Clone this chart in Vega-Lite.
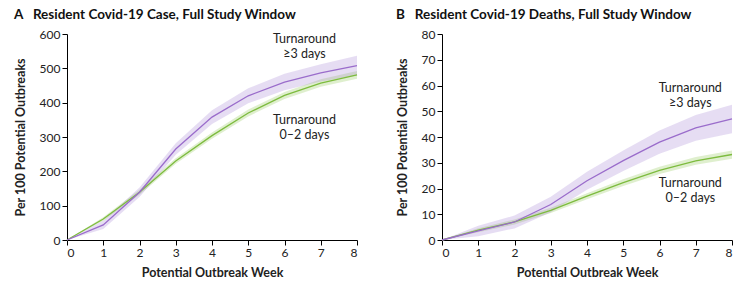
{
  "$schema": "https://vega.github.io/schema/vega-lite/v6.json",
  "background": "white",
  "padding": {"left": 14, "top": 7, "right": 5, "bottom": 5},
  "spacing": 36,
  "config": {
    "font": "Lato",
    "view": {"stroke": null},
    "axis": {
      "grid": false,
      "labelOverlap": false,
      "labelFont": "Lato",
      "labelFontSize": 12,
      "labelColor": "#222222",
      "domainColor": "#000000",
      "tickColor": "#000000",
      "tickSize": 5,
      "labelPadding": 2,
      "titleFont": "Lato",
      "titleFontSize": 12.5,
      "titleFontWeight": "bold",
      "titleColor": "#222222"
    },
    "axisY": {"titlePadding": 12},
    "axisX": {"titlePadding": 8},
    "title": {"font": "Lato", "fontSize": 13.5, "fontWeight": "bold", "anchor": "start", "frame": "bounds", "color": "#111111", "offset": 7},
    "text": {"font": "Lato", "fontSize": 12.5, "color": "#222222", "lineBreak": "\n", "lineHeight": 15}
  },
  "hconcat": [
    {
      "width": 290,
      "height": 206,
      "title": {"text": "A\u00a0\u00a0\u00a0Resident Covid-19 Case, Full Study Window"},
      "encoding": {
        "x": {"field": "week", "type": "quantitative", "scale": {"domain": [0, 8], "nice": false}, "axis": {"values": [0,1,2,3,4,5,6,7,8], "title": "Potential Outbreak Week"}},
        "y": {"field": "y", "type": "quantitative", "scale": {"domain": [0, 600], "nice": false}, "axis": {"values": [0,100,200,300,400,500,600], "title": "Per 100 Potential Outbreaks"}}
      },
      "layer": [
        {
          "data": {"values": [
            {"week": 0, "group": "0-2", "y": 0, "lo": 0, "hi": 0},
            {"week": 1, "group": "0-2", "y": 61, "lo": 56, "hi": 66},
            {"week": 2, "group": "0-2", "y": 139, "lo": 132, "hi": 146},
            {"week": 3, "group": "0-2", "y": 230, "lo": 222, "hi": 238},
            {"week": 4, "group": "0-2", "y": 304, "lo": 295, "hi": 313},
            {"week": 5, "group": "0-2", "y": 370, "lo": 360, "hi": 380},
            {"week": 6, "group": "0-2", "y": 421, "lo": 411, "hi": 431},
            {"week": 7, "group": "0-2", "y": 457, "lo": 446, "hi": 468},
            {"week": 8, "group": "0-2", "y": 481, "lo": 470, "hi": 492},
            {"week": 0, "group": ">=3", "y": 0, "lo": 0, "hi": 0},
            {"week": 1, "group": ">=3", "y": 44, "lo": 32, "hi": 56},
            {"week": 2, "group": ">=3", "y": 139, "lo": 125, "hi": 153},
            {"week": 3, "group": ">=3", "y": 265, "lo": 248, "hi": 282},
            {"week": 4, "group": ">=3", "y": 358, "lo": 338, "hi": 378},
            {"week": 5, "group": ">=3", "y": 420, "lo": 398, "hi": 442},
            {"week": 6, "group": ">=3", "y": 460, "lo": 436, "hi": 484},
            {"week": 7, "group": ">=3", "y": 487, "lo": 462, "hi": 512},
            {"week": 8, "group": ">=3", "y": 508, "lo": 480, "hi": 537}
          ]},
          "layer": [
            {
              "mark": {"type": "area", "opacity": 0.28},
              "encoding": {
                "y": {"field": "lo", "type": "quantitative"},
                "y2": {"field": "hi"},
                "color": {"field": "group", "type": "nominal", "scale": {"domain": ["0-2", ">=3"], "range": ["#8cc44f", "#a584d3"]}, "legend": null}
              }
            },
            {
              "mark": {"type": "line", "strokeWidth": 1.3},
              "encoding": {
                "stroke": {"field": "group", "type": "nominal", "scale": {"domain": ["0-2", ">=3"], "range": ["#7dbb3e", "#9a6ccb"]}, "legend": null}
              }
            }
          ]
        },
        {
          "data": {"values": [
            {"week": 6.55, "y": 584, "label": "Turnaround\n≥3 days"},
            {"week": 6.55, "y": 350, "label": "Turnaround\n0–2 days"}
          ]},
          "mark": {"type": "text", "baseline": "middle", "align": "center"},
          "encoding": {
            "text": {"field": "label"}
          }
        }
      ]
    },
    {
      "width": 290,
      "height": 206,
      "title": {"text": "B\u00a0\u00a0\u00a0Resident Covid-19 Deaths, Full Study Window"},
      "encoding": {
        "x": {"field": "week", "type": "quantitative", "scale": {"domain": [0, 8], "nice": false}, "axis": {"values": [0,1,2,3,4,5,6,7,8], "title": "Potential Outbreak Week"}},
        "y": {"field": "y", "type": "quantitative", "scale": {"domain": [0, 80], "nice": false}, "axis": {"values": [0,10,20,30,40,50,60,70,80], "title": "Per 100 Potential Outbreaks"}}
      },
      "layer": [
        {
          "data": {"values": [
            {"week": 0, "group": "0-2", "y": 0, "lo": 0, "hi": 0},
            {"week": 1, "group": "0-2", "y": 3.8, "lo": 3.0, "hi": 4.6},
            {"week": 2, "group": "0-2", "y": 7.0, "lo": 6.0, "hi": 8.0},
            {"week": 3, "group": "0-2", "y": 11.5, "lo": 10.5, "hi": 12.5},
            {"week": 4, "group": "0-2", "y": 17.0, "lo": 15.8, "hi": 18.2},
            {"week": 5, "group": "0-2", "y": 22.3, "lo": 21.0, "hi": 23.6},
            {"week": 6, "group": "0-2", "y": 27.0, "lo": 25.6, "hi": 28.4},
            {"week": 7, "group": "0-2", "y": 30.7, "lo": 29.2, "hi": 32.2},
            {"week": 8, "group": "0-2", "y": 33.2, "lo": 31.6, "hi": 34.8},
            {"week": 0, "group": ">=3", "y": 0, "lo": 0, "hi": 0},
            {"week": 1, "group": ">=3", "y": 3.5, "lo": 1.5, "hi": 5.5},
            {"week": 2, "group": ">=3", "y": 7.0, "lo": 4.5, "hi": 9.5},
            {"week": 3, "group": ">=3", "y": 13.8, "lo": 10.8, "hi": 16.8},
            {"week": 4, "group": ">=3", "y": 23.0, "lo": 19.5, "hi": 26.5},
            {"week": 5, "group": ">=3", "y": 30.8, "lo": 26.8, "hi": 34.8},
            {"week": 6, "group": ">=3", "y": 38.0, "lo": 33.5, "hi": 42.5},
            {"week": 7, "group": ">=3", "y": 43.5, "lo": 38.5, "hi": 48.5},
            {"week": 8, "group": ">=3", "y": 47.0, "lo": 41.5, "hi": 52.5}
          ]},
          "layer": [
            {
              "mark": {"type": "area", "opacity": 0.28},
              "encoding": {
                "y": {"field": "lo", "type": "quantitative"},
                "y2": {"field": "hi"},
                "color": {"field": "group", "type": "nominal", "scale": {"domain": ["0-2", ">=3"], "range": ["#8cc44f", "#a584d3"]}, "legend": null}
              }
            },
            {
              "mark": {"type": "line", "strokeWidth": 1.3},
              "encoding": {
                "stroke": {"field": "group", "type": "nominal", "scale": {"domain": ["0-2", ">=3"], "range": ["#7dbb3e", "#9a6ccb"]}, "legend": null}
              }
            }
          ]
        },
        {
          "data": {"values": [
            {"week": 6.85, "y": 59.0, "label": "Turnaround\n≥3 days"},
            {"week": 6.85, "y": 22.0, "label": "Turnaround\n0–2 days"}
          ]},
          "mark": {"type": "text", "baseline": "middle", "align": "center"},
          "encoding": {
            "text": {"field": "label"}
          }
        }
      ]
    }
  ]
}
